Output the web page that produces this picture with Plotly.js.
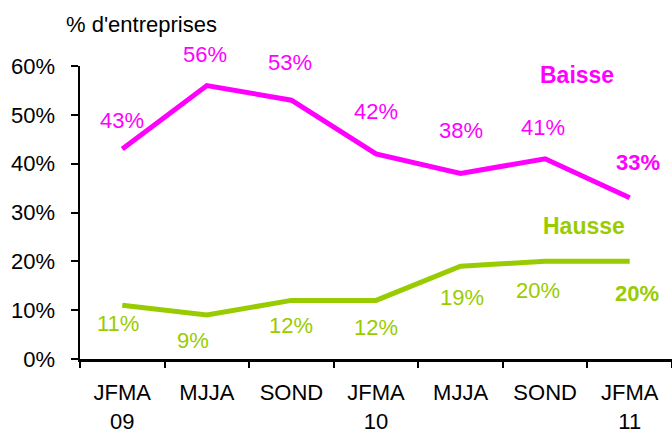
<!DOCTYPE html>
<html>
<head>
<meta charset="utf-8">
<script src="https://cdn.plot.ly/plotly-3.0.1.min.js"></script>
<style>html,body{margin:0;padding:0;background:#fff;}#chart{width:672px;height:433px;}</style>
</head>
<body>
<div id="chart"></div>
<script>
// ---- data ----
var periods = ["JFMA<br>09", "MJJA", "SOND", "JFMA<br>10", "MJJA", "SOND", "JFMA<br>11"];
var baisse = [43, 56, 53, 42, 38, 41, 33];
var hausse = [11, 9, 12, 12, 19, 20, 20];
var seriesNames = ["Baisse", "Hausse"];
var yTitle = "% d'entreprises";

// ---- styles ----
var MAGENTA = "#FF00FF";
var GREEN = "#99CC00";
var FONT = "Liberation Sans, Arial, sans-serif";
var baisseLabelShiftY = [29, 31, 38, 42, 43, 31, 35];
var baisseLabelShiftX = [0, -2, -1, 0, 0, -2, 8];
var hausseLabelShiftY = [-18, -25, -25, -27, -31, -29, -32];
var hausseLabelShiftX = [-4, -14, 0, 0, 1, -7, 7];

var xs = periods.map(function (_, i) { return i; });
var bounds = [];
for (var i = 0; i <= periods.length; i++) bounds.push(i - 0.5);

var traces = [
  {x: xs, y: baisse, type: "scatter", mode: "lines", name: seriesNames[0],
   line: {color: MAGENTA, width: 5}, hoverinfo: "skip"},
  {x: xs, y: hausse, type: "scatter", mode: "lines", name: seriesNames[1],
   line: {color: GREEN, width: 5}, hoverinfo: "skip"}
];

var annotations = [];
var last = periods.length - 1;
baisse.forEach(function (v, i) {
  annotations.push({x: i, y: v, xref: "x", yref: "y", text: v + "%", showarrow: false,
    xanchor: "center", yanchor: "middle",
    yshift: baisseLabelShiftY[i], xshift: baisseLabelShiftX[i],
    font: {family: FONT, size: 22, color: MAGENTA, weight: i === last ? "bold" : "normal"}});
});
hausse.forEach(function (v, i) {
  annotations.push({x: i, y: v, xref: "x", yref: "y", text: v + "%", showarrow: false,
    xanchor: "center", yanchor: "middle",
    yshift: hausseLabelShiftY[i], xshift: hausseLabelShiftX[i],
    font: {family: FONT, size: 22, color: GREEN, weight: i === last ? "bold" : "normal"}});
});
annotations.push({xref: "paper", yref: "paper", x: 0.8395, y: 0.9676, xanchor: "center", yanchor: "middle",
  text: "<b>" + seriesNames[0] + "</b>", showarrow: false, font: {family: FONT, size: 23, color: MAGENTA}});
annotations.push({xref: "paper", yref: "paper", x: 0.851, y: 0.454, xanchor: "center", yanchor: "middle",
  text: "<b>" + seriesNames[1] + "</b>", showarrow: false, font: {family: FONT, size: 23, color: GREEN}});
annotations.push({xref: "paper", yref: "paper", x: -0.027, y: 1.14, xanchor: "left", yanchor: "middle",
  text: yTitle, showarrow: false, font: {family: FONT, size: 22, color: "#000"}});

var layout = {
  width: 672, height: 433,
  margin: {l: 80, r: 0, t: 66, b: 74, pad: 0},
  paper_bgcolor: "#fff", plot_bgcolor: "#fff",
  showlegend: false,
  font: {family: FONT, color: "#000"},
  xaxis: {
    range: [-0.5, periods.length - 0.5],
    tickmode: "array", tickvals: xs, ticktext: periods,
    ticks: "", showgrid: false, zeroline: false,
    showline: true, linecolor: "#000", linewidth: 2.5,
    tickfont: {family: FONT, size: 22, color: "#000"},
    ticklabelstandoff: 12,
    minor: {tickmode: "array", tickvals: bounds, ticks: "outside", ticklen: 6, tickwidth: 2, tickcolor: "#000", showgrid: false},
    fixedrange: true
  },
  yaxis: {
    range: [0, 60], dtick: 10, tick0: 0, ticksuffix: "%",
    ticks: "outside", ticklen: 7, tickwidth: 2, tickcolor: "#000",
    showgrid: false, zeroline: false,
    showline: true, linecolor: "#000", linewidth: 2.5,
    tickfont: {family: FONT, size: 22, color: "#000"},
    ticklabelstandoff: 11,
    fixedrange: true
  },
  annotations: annotations
};

Plotly.newPlot("chart", traces, layout, {staticPlot: true, displayModeBar: false});
</script>
</body>
</html>
